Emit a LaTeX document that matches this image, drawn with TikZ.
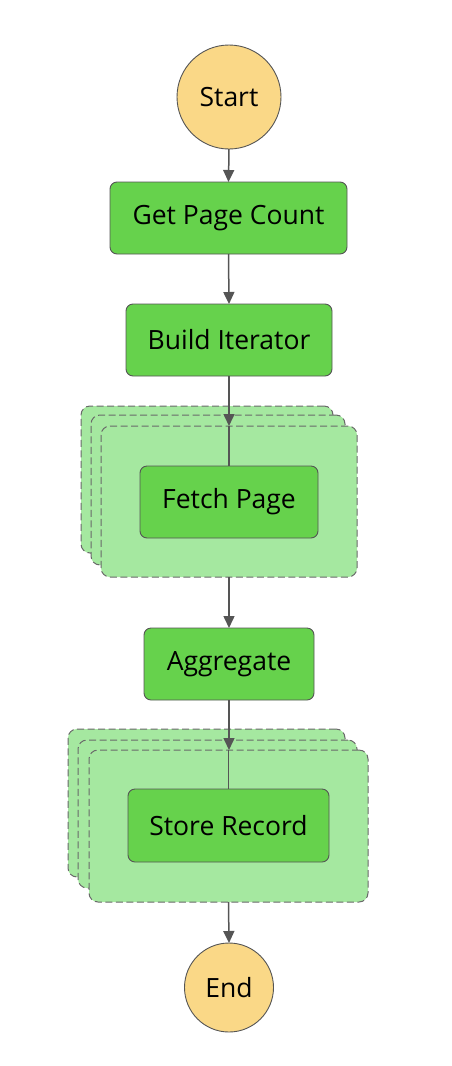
\documentclass[tikz,border=0pt]{standalone}
\usepackage{fontspec}
\setmainfont{Open Sans}
\usetikzlibrary{arrows.meta}
\definecolor{startfill}{RGB}{250,216,135}
\definecolor{taskfill}{RGB}{102,210,76}
\definecolor{mapfill}{RGB}{165,232,160}
\definecolor{edgegray}{RGB}{85,85,85}
\definecolor{dashgray}{RGB}{105,105,105}
\tikzset{
  term/.style={circle, draw=edgegray, line width=0.9pt, fill=startfill, minimum size=#1, inner sep=0pt, outer sep=0pt, font=\fontsize{26.5}{30}\selectfont},
  taskbox/.style={rectangle, rounded corners=7pt, draw=edgegray, line width=0.9pt, fill=taskfill, inner sep=0pt, outer sep=0pt, font=\fontsize{26.5}{30}\selectfont},
  mapbox/.style={rectangle, rounded corners=9pt, draw=dashgray, line width=1pt, dash pattern=on 7pt off 3.5pt, fill=mapfill, inner sep=0pt, outer sep=0pt},
  conn/.style={draw=edgegray, line width=1.5pt},
  arr/.style={conn, -{Triangle[width=11pt,length=12pt]}},
}
\begin{document}
\begin{tikzpicture}[x=1pt,y=-1pt]
\useasboundingbox (0,0) rectangle (452,1066);
\node[term=104pt] (start) at (229,97) {Start};
\node[taskbox, minimum width=237pt, minimum height=72pt] (count) at (228.5,218) {Get Page Count};
\node[taskbox, minimum width=206pt, minimum height=72pt] (build) at (229,340) {Build Iterator};
\node[mapbox, minimum width=252pt, minimum height=147pt] (mapAc) at (207,479.5) {};
\node[mapbox, minimum width=254pt, minimum height=150pt] (mapAb) at (218,490) {};
\node[mapbox, minimum width=256pt, minimum height=151pt] (mapA) at (229,501.5) {};
\node[taskbox, minimum width=178pt, minimum height=72pt] (fetch) at (229,502) {Fetch Page};
\node[taskbox, minimum width=170pt, minimum height=72pt] (agg) at (229,664) {Aggregate};
\node[mapbox, minimum width=277pt, minimum height=148pt] (mapBc) at (206.5,803) {};
\node[mapbox, minimum width=279pt, minimum height=148pt] (mapBb) at (217.5,814) {};
\node[mapbox, minimum width=279pt, minimum height=152pt] (mapB) at (228.5,826) {};
\node[taskbox, minimum width=201pt, minimum height=73pt] (store) at (228.5,825.5) {Store Record};
\node[term=89pt] (end) at (229,987.5) {End};
\draw[arr] (start.south) -- (count.north);
\draw[arr] (count.south) -- (build.north);
\draw[arr] (build.south) -- (build.south |- mapA.north);
\draw[conn] (fetch.north |- mapA.north) -- (fetch.north);
\draw[arr] (mapA.south) -- (agg.north);
\draw[arr] (agg.south) -- (agg.south |- mapB.north);
\draw[conn] (store.north |- mapB.north) -- (store.north);
\draw[arr] (mapB.south) -- (end.north);
\end{tikzpicture}
\end{document}
